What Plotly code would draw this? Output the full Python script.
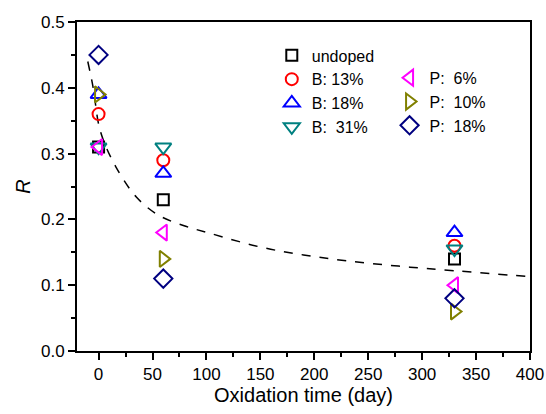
import plotly.graph_objects as go

days = [0, 60, 330]
undoped = [0.31, 0.23, 0.14]
b13 = [0.36, 0.29, 0.16]
b18 = [0.39, 0.27, 0.18]
b31 = [0.31, 0.31, 0.155]
p6 = [0.31, 0.18, 0.10]
p10 = [0.39, 0.14, 0.06]
p18 = [0.45, 0.11, 0.08]

fit_t = [-10, -5, 0, 5, 16, 35, 56, 80, 103, 150, 190, 230, 278, 330, 400]
fit_r = [0.44, 0.40, 0.345, 0.318, 0.28, 0.234, 0.206, 0.19, 0.179, 0.158, 0.146, 0.137, 0.129, 0.122, 0.113]

series = [
    ("undoped", undoped, "square-open", "#000000", "legend", 11),
    ("B: 13%", b13, "circle-open", "#FF0000", "legend", 12),
    ("B: 18%", b18, "triangle-up-open", "#0000FF", "legend", 14),
    ("B:  31%", b31, "triangle-down-open", "#008080", "legend", 14),
    ("P:  6%", p6, "triangle-left-open", "#FF00FF", "legend2", 14),
    ("P:  10%", p10, "triangle-right-open", "#808000", "legend2", 14),
    ("P:  18%", p18, "diamond-open", "#000080", "legend2", 14),
]

fig = go.Figure()
fig.add_trace(go.Scatter(x=fit_t, y=fit_r, mode="lines", line=dict(color="black", dash="dash", width=1.5, shape="spline"),
                         showlegend=False, hoverinfo="skip"))
for name, vals, sym, col, lg, sz in series:
    fig.add_trace(go.Scatter(x=days, y=vals, mode="markers", name=name, legend=lg,
                             marker=dict(symbol=sym, size=sz, color=col, line=dict(color=col, width=2))))

font = dict(family="Liberation Sans, Arial, sans-serif", color="black")
fig.update_layout(
    width=546, height=414,
    margin=dict(l=77, r=16, t=22, b=63),
    paper_bgcolor="white", plot_bgcolor="white",
    font=dict(**font, size=16),
    legend=dict(x=0.43, y=0.95, xanchor="left", yanchor="top", bgcolor="rgba(0,0,0,0)",
                font=dict(**font, size=16), tracegroupgap=0, itemwidth=30),
    legend2=dict(x=0.69, y=0.882, xanchor="left", yanchor="top", bgcolor="rgba(0,0,0,0)",
                 font=dict(**font, size=16), tracegroupgap=0, itemwidth=30),
)
fig.update_xaxes(range=[-20, 400], tickvals=[0, 50, 100, 150, 200, 250, 300, 350, 400],
                 showline=True, linecolor="black", linewidth=2, mirror=True,
                 ticks="outside", ticklen=7, tickwidth=2, tickcolor="black",
                 minor=dict(ticks="outside", ticklen=4, tickwidth=2, tickcolor="black", dtick=25, tick0=0, showgrid=False),
                 showgrid=False, zeroline=False, automargin=False,
                 tickfont=dict(**font, size=17),
                 title=dict(text="Oxidation time (day)", font=dict(**font, size=20), standoff=5))
fig.update_yaxes(range=[0, 0.5], tickvals=[0, 0.1, 0.2, 0.3, 0.4, 0.5], tickformat=".1f",
                 showline=True, linecolor="black", linewidth=2, mirror=True,
                 ticks="outside", ticklen=7, tickwidth=2, tickcolor="black",
                 minor=dict(ticks="outside", ticklen=4, tickwidth=2, tickcolor="black", dtick=0.05, tick0=0, showgrid=False),
                 showgrid=False, zeroline=False, automargin=False,
                 tickfont=dict(**font, size=17),
                 title=dict(text="<i>R</i>", font=dict(**font, size=20), standoff=5))

fig.write_html("out.html", config={"displayModeBar": False},
               post_script="document.body.style.margin='0';")
